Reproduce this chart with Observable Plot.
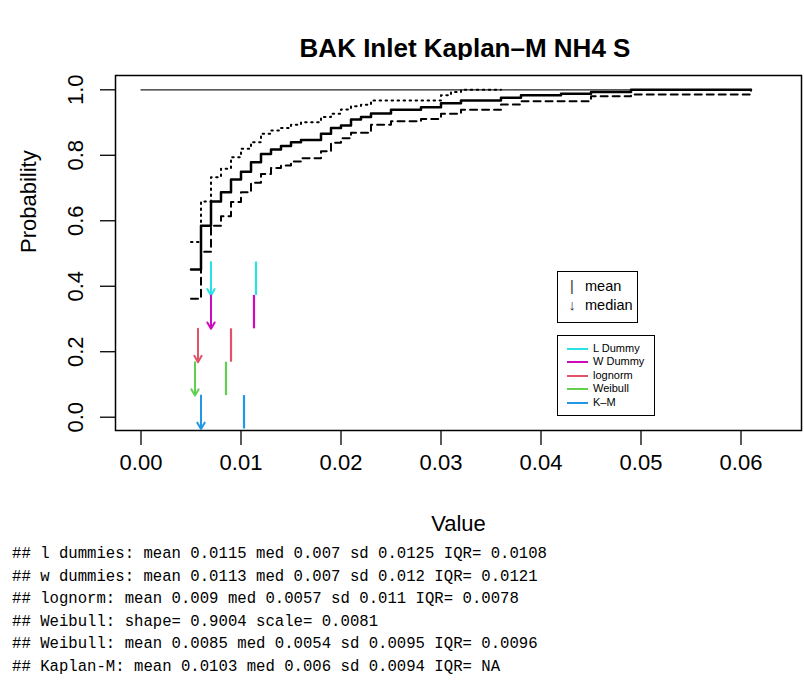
<!DOCTYPE html>
<html><head><meta charset="utf-8">
<script src="https://cdn.jsdelivr.net/npm/d3@7"></script>
<script src="https://cdn.jsdelivr.net/npm/@observablehq/plot@0.6"></script>
<style>
body{margin:0;background:#fff;font-family:"Liberation Sans",Arial,sans-serif;color:#000;}
#wrap{position:relative;width:804px;height:681px;overflow:hidden;background:#fff;}
#title{position:absolute;left:0;top:35px;width:930px;text-align:center;font-weight:bold;font-size:26px;line-height:26px;white-space:nowrap;}
#chart{position:absolute;left:0;top:60px;}
#caption{position:absolute;left:12px;top:543px;margin:0;font-family:"Liberation Mono",monospace;font-size:15.65px;line-height:22.5px;white-space:pre;}
.box{position:absolute;border:1.5px solid #000;background:#fff;box-sizing:border-box;}
.row{position:absolute;white-space:nowrap;}
</style></head>
<body>
<div id="wrap">
  <div id="title"></div>
  <div id="chart"></div>
  <div class="box" id="leg1" style="left:557px;top:271px;width:81px;height:52px;"></div>
  <div class="box" id="leg2" style="left:557px;top:335px;width:98px;height:81px;"></div>
  <pre id="caption"></pre>
</div>
<script>
// ---------- data ----------
const titleText = "BAK Inlet Kaplan–M NH4 S";
const xLabel = "Value";
const yLabel = "Probability";
const xTicks = [0, 0.01, 0.02, 0.03, 0.04, 0.05, 0.06];
const yTicks = [0, 0.2, 0.4, 0.6, 0.8, 1.0];

// Kaplan-Meier estimate (solid)
const kmX = [0.005, 0.006, 0.007, 0.008, 0.009, 0.010, 0.011, 0.012, 0.013, 0.014, 0.015, 0.016, 0.018, 0.019, 0.020, 0.021, 0.022, 0.023, 0.025, 0.028, 0.030, 0.032, 0.036, 0.038, 0.042, 0.045, 0.049, 0.061];
const kmY = [0.451, 0.585, 0.659, 0.687, 0.726, 0.750, 0.779, 0.804, 0.818, 0.828, 0.840, 0.847, 0.866, 0.883, 0.891, 0.909, 0.917, 0.928, 0.939, 0.947, 0.959, 0.967, 0.976, 0.983, 0.988, 0.993, 1.000, 1.000];
// lower confidence bound (dashed)
const loX = [0.005, 0.006, 0.007, 0.008, 0.009, 0.010, 0.011, 0.012, 0.013, 0.014, 0.015, 0.016, 0.018, 0.019, 0.020, 0.021, 0.023, 0.025, 0.028, 0.030, 0.032, 0.036, 0.038, 0.045, 0.049, 0.061, 0.061];
const loY = [0.362, 0.505, 0.585, 0.614, 0.657, 0.687, 0.716, 0.743, 0.761, 0.769, 0.781, 0.791, 0.812, 0.838, 0.852, 0.869, 0.893, 0.904, 0.911, 0.927, 0.939, 0.955, 0.965, 0.980, 0.986, 0.986, 1.000];
// upper confidence bound (dotted)
const hiX = [0.005, 0.006, 0.007, 0.008, 0.009, 0.010, 0.011, 0.012, 0.013, 0.014, 0.015, 0.016, 0.018, 0.019, 0.020, 0.021, 0.022, 0.023, 0.030, 0.031, 0.032, 0.036];
const hiY = [0.535, 0.659, 0.733, 0.759, 0.794, 0.820, 0.840, 0.866, 0.876, 0.883, 0.893, 0.901, 0.917, 0.927, 0.940, 0.950, 0.954, 0.967, 0.983, 0.993, 1.000, 1.000];
// reference line at probability 1
const refLevel = [1];
const refFrom = 0, refTo = 0.061;

// summary statistics
const dists   = ["L Dummy", "W Dummy", "lognorm", "Weibull", "K–M"];
const colors  = ["#28E2E5", "#CD0BBC", "#DF536B", "#61D04F", "#2297E6"];
const means   = [0.0115, 0.0113, 0.009, 0.0085, 0.0103];
const medians = [0.007, 0.007, 0.0057, 0.0054, 0.006];
const bandTop = [0.474, 0.372, 0.270, 0.168, 0.066];
const bandBot = [0.372, 0.270, 0.168, 0.066, -0.036];

const legendSymbols = ["mean", "median"];

const captionLines = [
  "## l dummies: mean 0.0115 med 0.007 sd 0.0125 IQR= 0.0108",
  "## w dummies: mean 0.0113 med 0.007 sd 0.012 IQR= 0.0121",
  "## lognorm: mean 0.009 med 0.0057 sd 0.011 IQR= 0.0078",
  "## Weibull: shape= 0.9004 scale= 0.0081",
  "## Weibull: mean 0.0085 med 0.0054 sd 0.0095 IQR= 0.0096",
  "## Kaplan-M: mean 0.0103 med 0.006 sd 0.0094 IQR= NA"
];

// ---------- build ----------
const zip = (xs, ys) => xs.map((x, i) => ({x, y: ys[i]}));
const km = zip(kmX, kmY), lo = zip(loX, loY), hi = zip(hiX, hiY);
const stats = dists.map((d, i) => ({name: d, color: colors[i], mean: means[i], median: medians[i], top: bandTop[i], bot: bandBot[i]}));

document.getElementById("title").textContent = titleText;
document.getElementById("caption").textContent = captionLines.join("\n");

const font = "'Liberation Sans', Arial, sans-serif";
const chart = Plot.plot({
  width: 804, height: 480,
  marginLeft: 115, marginRight: 3, marginTop: 15, marginBottom: 110,
  x: {domain: [-0.00255, 0.06605]},
  y: {domain: [-0.0406, 1.0437]},
  color: {type: "identity"},
  style: {fontFamily: font, fontSize: "22px", color: "#000", background: "#fff", overflow: "visible"},
  marks: [
    Plot.axisX(xTicks, {tickSize: 15, tickPadding: 9, tickFormat: d3.format(".2f"), fontSize: 22, strokeWidth: 1.3, label: null}),
    Plot.axisY(yTicks, {tickSize: 15, tickPadding: 18, tickRotate: -90, tickFormat: d3.format(".1f"), fontSize: 22, strokeWidth: 1.3, label: null}),
    Plot.text([xLabel], {text: d => d, frameAnchor: "bottom", dy: 93, fontSize: 22, lineAnchor: "middle"}),
    Plot.text([yLabel], {text: d => d, frameAnchor: "left", dx: -87, rotate: -90, fontSize: 22, lineAnchor: "middle"}),
    Plot.frame({stroke: "#000", strokeWidth: 1.5}),
    Plot.ruleY(refLevel, {x1: refFrom, x2: refTo, stroke: "#222", strokeWidth: 1.2}),
    Plot.line(hi, {x: "x", y: "y", curve: "step-after", stroke: "#000", strokeWidth: 2, strokeDasharray: "1.5,4.5"}),
    Plot.line(lo, {x: "x", y: "y", curve: "step-after", stroke: "#000", strokeWidth: 2, strokeDasharray: "7,5"}),
    Plot.line(km, {x: "x", y: "y", curve: "step-after", stroke: "#000", strokeWidth: 2.5}),
    Plot.ruleX(stats, {x: "mean", y1: "bot", y2: "top", stroke: "color", strokeWidth: 2.2}),
    Plot.arrow(stats, {x: "median", y1: "top", y2: "bot", stroke: "color", strokeWidth: 2, headLength: 5.5})
  ]
});
document.getElementById("chart").appendChild(chart);

// legends
const leg1 = document.getElementById("leg1");
const sym = ["|", "↓"];
legendSymbols.forEach((t, i) => {
  const s = document.createElement("div");
  s.className = "row";
  s.style.cssText = `left:9px;top:${5 + i * 19}px;font-size:14.5px;line-height:18px;width:10px;text-align:center;color:#333;`;
  s.textContent = sym[i];
  leg1.appendChild(s);
  const r = document.createElement("div");
  r.className = "row";
  r.style.cssText = `left:27px;top:${5 + i * 19}px;font-size:14.5px;line-height:18px;`;
  r.textContent = t;
  leg1.appendChild(r);
});
const leg2 = document.getElementById("leg2");
stats.forEach((s, i) => {
  const y = 12.5 + i * 13.6;
  const ln = document.createElement("div");
  ln.className = "row";
  ln.style.cssText = `left:8.5px;top:${y - 1}px;width:21px;height:2px;background:${s.color};`;
  leg2.appendChild(ln);
  const r = document.createElement("div");
  r.className = "row";
  r.style.cssText = `left:35px;top:${y - 7}px;font-size:11px;line-height:13px;`;
  r.textContent = s.name;
  leg2.appendChild(r);
});
</script>
</body></html>
